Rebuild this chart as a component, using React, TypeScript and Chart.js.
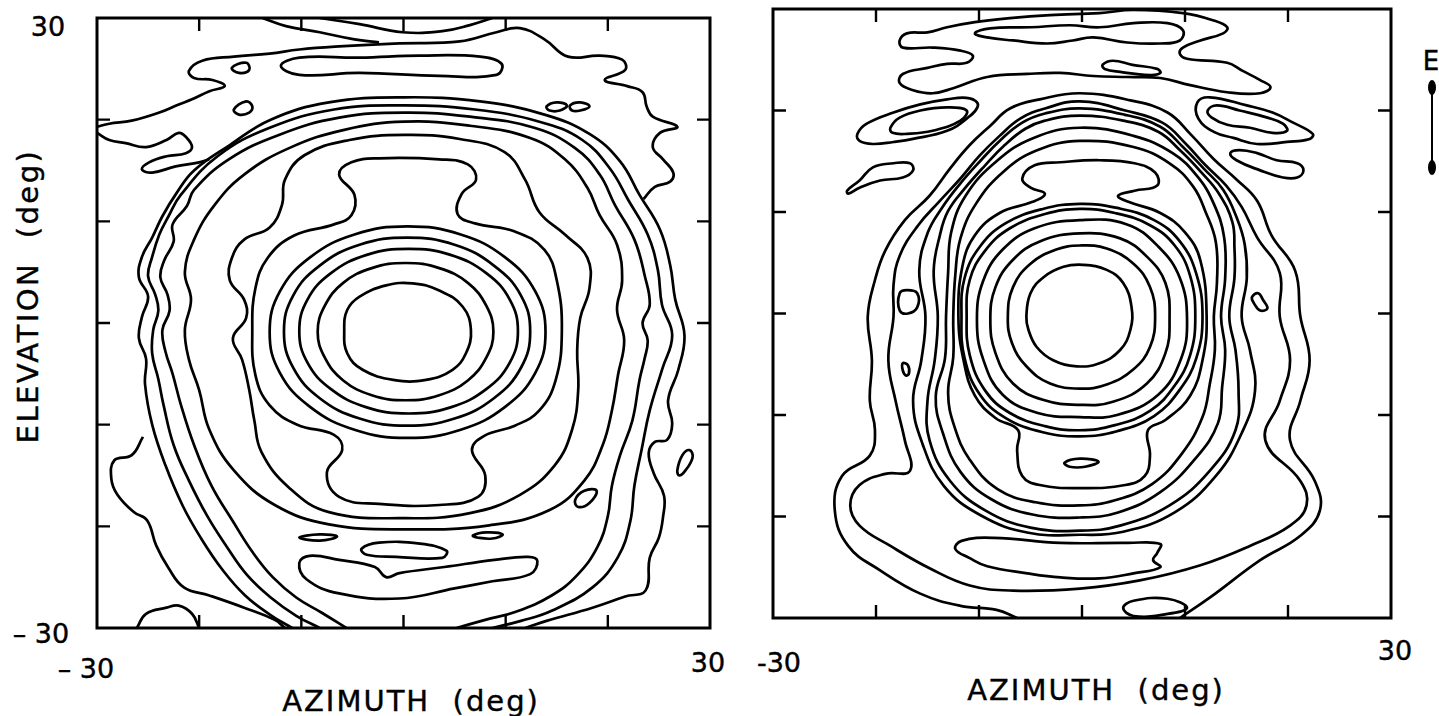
import React, { useEffect, useRef } from "react";
import { Chart, registerables } from "chart.js";
Chart.register(...registerables);

type Pt = [number, number];

const axisMin = -30;
const axisMax = 30;
const axisTicks = [-20, -10, 0, 10, 20];

// ---------------- LEFT PANEL (degrees) ----------------
const leftRing1: Pt[] = [[-5.8,-0.7],[-5.5,1.3],[-4.3,2.6],[-1.7,3.7],[0.9,3.9],[3.5,3.2],[5.8,1.6],[6.6,-0.7],[6.1,-3.0],[4.8,-4.6],[2.2,-5.6],[-1.0,-5.6],[-4.0,-4.6],[-5.5,-3.0]];
const leftRing2: Pt[] = [[8.8,-0.85],[8.1,1.7],[6.3,3.95],[3.5,5.4],[0.2,5.9],[-3.1,5.4],[-5.9,3.95],[-7.7,1.7],[-8.4,-0.85],[-7.7,-3.4],[-5.9,-5.65],[-3.1,-7.1],[0.2,-7.6],[3.5,-7.1],[6.3,-5.65],[8.1,-3.4]];
const leftRing3: Pt[] = [[11.2,-0.8],[10.4,2.3],[8.1,4.9],[4.6,6.7],[0.5,7.3],[-3.6,6.7],[-7.1,4.9],[-9.4,2.3],[-10.2,-0.8],[-9.4,-3.9],[-7.1,-6.5],[-3.6,-8.3],[0.5,-8.9],[4.6,-8.3],[8.1,-6.5],[10.4,-3.9]];
const leftRing4: Pt[] = [[12.4,-0.85],[11.5,2.7],[8.85,5.65],[5.0,7.7],[0.35,8.4],[-4.3,7.7],[-8.2,5.65],[-10.8,2.7],[-11.7,-0.85],[-10.8,-4.4],[-8.2,-7.4],[-4.3,-9.4],[0.35,-10.1],[5.0,-9.4],[8.85,-7.4],[11.5,-4.4]];
const leftRing5: Pt[] = [[13.9,-0.9],[12.9,3.1],[9.95,6.45],[5.6,8.7],[0.4,9.5],[-4.8,8.7],[-9.15,6.45],[-12.1,3.1],[-13.1,-0.9],[-12.1,-4.9],[-9.15,-8.25],[-4.8,-10.5],[0.4,-11.3],[5.6,-10.5],[9.95,-8.25],[12.9,-4.9]];
const leftDogbone: Pt[] = [[-6.3,14.6],[-5.1,15.8],[-2.4,16.2],[3.5,16.1],[6.3,15.6],[7.1,14.1],[5.7,12.7],[5.3,10.7],[7.0,9.8],[10.9,9.0],[13.8,7.2],[15.0,4.2],[15.5,-0.7],[14.9,-5.6],[13.3,-8.6],[10.9,-10.1],[7.9,-11.1],[6.7,-12.5],[8.0,-15.0],[7.3,-17.1],[3.5,-17.9],[-2.4,-17.8],[-6.3,-17.1],[-7.5,-14.7],[-6.0,-12.5],[-6.8,-11.0],[-10.4,-10.0],[-13.1,-8.1],[-14.5,-5.1],[-14.8,-0.7],[-14.5,3.4],[-13.3,6.4],[-10.7,8.6],[-6.8,9.7],[-5.1,10.6],[-4.8,12.6]];
const leftRingE: Pt[] = [[0.1,18.5],[5.5,18.1],[9.9,16.8],[11.9,14.1],[13.3,10.9],[15.8,8.7],[18.0,6.4],[18.2,3.4],[17.3,0.5],[17.0,-2.7],[17.1,-6.6],[16.5,-10.5],[14.8,-14.0],[11.4,-16.9],[6.5,-18.7],[0.1,-19.2],[-7.3,-18.6],[-11.2,-16.2],[-13.9,-12.7],[-14.6,-9.6],[-15.1,-6.6],[-15.8,-3.6],[-16.7,-1.5],[-15.4,0.5],[-15.6,2.3],[-17.0,4.2],[-16.8,6.4],[-15.6,8.2],[-13.1,9.4],[-11.9,11.6],[-11.6,14.1],[-9.7,16.5],[-5.3,18.0]];
const leftRingW1: Pt[] = [[0.1,19.8],[6.5,19.4],[12.4,18.2],[15.8,16.1],[18.0,13.3],[19.2,10.6],[20.9,7.7],[21.4,4.2],[20.9,1.3],[21.6,-1.7],[21.0,-5.1],[20.4,-8.6],[19.5,-12.0],[17.7,-15.5],[14.3,-18.4],[8.4,-19.9],[0.1,-20.3],[-7.3,-19.8],[-12.6,-17.9],[-16.6,-14.5],[-19.0,-10.5],[-20.0,-6.6],[-21.0,-3.6],[-21.4,-0.7],[-20.8,2.3],[-21.4,5.0],[-20.5,8.2],[-18.5,11.6],[-15.6,14.6],[-11.2,17.2],[-5.8,19.0]];
const leftW2: Pt[] = [[-5.6,-30.0],[-8.0,-28.5],[-10.5,-27.0],[-12.8,-25.0],[-14.8,-22.5],[-16.7,-19.5],[-18.8,-16.0],[-20.5,-12.0],[-21.8,-8.0],[-22.6,-5.0],[-23.3,-2.8],[-23.6,-0.7],[-22.9,1.2],[-23.1,2.8],[-23.8,4.5],[-23.4,6.2],[-22.5,8.0],[-22.6,9.7],[-21.2,11.5],[-20.5,13.1],[-17.1,16.1],[-12.2,18.5],[-6.3,20.2],[0.1,20.7],[6.5,20.3],[12.8,19.2],[16.8,17.2],[19.2,14.6],[20.7,11.6],[22.6,8.2],[23.6,4.7],[24.1,1.8],[23.4,0.0],[23.9,-1.7],[23.6,-3.5],[23.1,-5.6],[22.4,-9.6],[21.2,-13.0],[20.4,-16.0],[20.0,-19.0],[19.0,-22.0],[17.0,-24.8],[14.5,-26.8],[11.0,-28.4],[8.0,-29.2],[5.2,-30.0]];
const leftW3: Pt[] = [[-8.2,-30.0],[-10.5,-28.8],[-13.0,-27.0],[-15.3,-24.8],[-17.3,-22.0],[-19.2,-19.0],[-21.0,-15.5],[-22.5,-12.0],[-23.5,-8.0],[-24.0,-5.5],[-24.6,-3.0],[-24.5,-0.7],[-24.0,1.2],[-24.3,2.8],[-25.0,4.6],[-24.6,6.5],[-23.9,8.7],[-23.0,10.5],[-21.8,12.6],[-18.2,16.4],[-13.1,19.2],[-6.8,21.0],[0.1,21.4],[7.0,21.0],[13.3,19.8],[17.5,18.0],[20.2,15.2],[22.0,12.1],[23.9,8.7],[24.9,5.2],[25.3,1.8],[26.3,-1.2],[25.3,-4.6],[24.1,-8.6],[23.3,-12.5],[22.6,-16.0],[22.2,-19.5],[21.0,-23.0],[18.5,-26.0],[14.5,-28.3],[11.5,-29.3],[8.7,-30.0]];
const leftW4: Pt[] = [[-10.9,-30.0],[-12.9,-28.8],[-15.5,-26.8],[-17.7,-24.3],[-19.8,-21.2],[-21.6,-18.0],[-23.3,-14.0],[-24.6,-10.0],[-25.3,-6.0],[-25.2,-3.5],[-25.9,-1.5],[-25.6,0.6],[-25.0,2.6],[-25.9,4.5],[-25.6,6.5],[-24.6,8.4],[-23.6,10.5],[-22.2,12.8],[-20.5,15.0],[-17.0,17.5],[-13.0,20.0],[-7.3,21.7],[0.1,22.2],[7.5,21.8],[13.8,20.5],[18.2,18.6],[21.2,15.9],[23.1,12.6],[25.1,9.2],[26.1,5.7],[26.6,2.3],[27.5,-1.2],[26.9,-4.6],[25.9,-7.6],[26.3,-9.9],[25.8,-11.5],[24.6,-11.7],[24.0,-12.8],[24.5,-14.8],[25.5,-17.0],[25.4,-19.1],[25.0,-21.1],[24.1,-23.1],[23.7,-26.3],[21.7,-26.9],[18.5,-28.0],[14.0,-29.3],[11.9,-30.0]];
const leftW5: Pt[] = [[-25.5,-11.2],[-26.6,-13.0],[-28.3,-13.5],[-28.6,-15.3],[-28.0,-16.9],[-26.4,-18.6],[-25.1,-19.4],[-24.2,-21.9],[-23.0,-24.1],[-21.5,-26.0],[-19.0,-26.8],[-15.6,-28.0],[-12.6,-29.2],[-11.6,-30.0]];
const leftBump: Pt[] = [[-26.1,-30.0],[-25.2,-28.6],[-23.2,-28.0],[-22.0,-27.8],[-20.7,-28.6],[-20.0,-30.0]];
const leftTop1: Pt[] = [[-30.0,19.3],[-28.8,19.6],[-26.6,19.9],[-23.9,20.7],[-22.0,21.5],[-20.7,22.0],[-19.0,22.8],[-17.5,23.3],[-18.7,23.9],[-20.5,24.1],[-21.0,24.8],[-19.7,25.8],[-16.6,26.2],[-13.1,26.5],[-10.2,26.9],[-6.3,27.2],[-0.4,27.5],[5.5,27.7],[9.1,28.6],[11.4,29.0],[13.8,27.9],[16.1,26.2],[19.2,26.3],[21.4,25.9],[21.7,24.9],[19.7,23.9],[21.9,23.3],[23.4,22.7],[23.8,21.3],[24.4,20.3],[26.8,19.3],[25.1,18.7],[24.4,17.3],[25.4,16.1],[26.4,14.8],[26.1,13.9],[24.6,13.4],[23.5,12.2]];
const leftTop2: Pt[] = [[-30.0,18.7],[-28.8,18.0],[-27.2,17.7],[-25.2,17.3],[-23.2,18.0],[-22.0,18.7],[-21.3,18.3],[-20.7,17.3],[-21.3,16.7],[-23.2,16.4],[-24.9,15.8],[-25.6,15.1],[-24.6,14.8],[-22.3,15.4],[-20.0,15.8],[-19.0,16.1]];
const leftTopU: Pt[] = [[-8.2,30.0],[-4.3,29.4],[-0.1,28.6],[3.8,28.7],[6.5,29.3],[8.7,30.0]];
const leftTopSlant: Pt[] = [[-13.8,30.0],[-11.5,29.2],[-8.2,28.6],[-4.8,27.9],[-2.4,27.6]];
const leftTopBlob: Pt[] = [[-12.0,25.3],[-10.2,26.1],[-4.3,26.1],[1.6,26.3],[7.5,26.2],[9.6,25.5],[9.1,24.4],[3.5,24.3],[-4.3,24.6],[-10.2,24.4]];
const leftLoopA: Pt[] = [[-16.8,25.1],[-15.4,25.6],[-15.1,24.9],[-16.1,24.6]];
const leftLoopB: Pt[] = [[-16.6,21.0],[-15.4,21.8],[-14.8,21.3],[-15.1,20.7],[-16.1,20.5]];
const leftLoopC: Pt[] = [[14.0,21.3],[15.0,21.7],[16.0,21.4],[15.3,20.9],[14.3,20.9]];
const leftLoopD: Pt[] = [[16.3,21.4],[17.3,21.7],[18.2,21.3],[17.3,20.9],[16.5,20.9]];
const leftDash: Pt[] = [[-10.2,-21.1],[-8.2,-20.8],[-6.5,-21.0],[-8.2,-21.4]];
const leftBottomLoop: Pt[] = [[-4.1,-22.2],[-2.4,-21.6],[1.6,-21.7],[4.2,-22.4],[3.8,-23.1],[-0.7,-23.0],[-3.6,-22.8]];
const leftSmallLoop: Pt[] = [[6.8,-20.9],[8.1,-20.6],[9.7,-20.8],[8.7,-21.2],[7.2,-21.1]];
const leftLongBlob: Pt[] = [[-10.2,-23.6],[-9.2,-22.9],[-6.3,-23.3],[-2.8,-24.0],[-1.7,-25.0],[-0.4,-24.6],[4.0,-24.0],[8.9,-23.3],[12.2,-23.0],[13.1,-23.4],[12.4,-24.7],[8.7,-25.4],[5.0,-26.1],[-0.4,-27.1],[-6.3,-26.6],[-9.5,-25.2]];
const leftOval: Pt[] = [[26.8,-14.5],[27.3,-13.0],[28.0,-12.5],[28.3,-13.2],[27.6,-14.5],[27.0,-15.0]];
const leftLowLoop: Pt[] = [[16.8,-17.4],[17.7,-16.5],[18.9,-16.5],[18.2,-17.7],[17.1,-18.1]];

// ---------------- RIGHT PANEL (degrees) ----------------
const rightRing1: Pt[] = [[-5.4,-0.3],[-5.0,2.0],[-3.7,3.6],[-1.8,4.6],[0.1,4.8],[2.4,4.3],[4.0,3.0],[4.8,0.7],[4.7,-1.6],[3.7,-3.6],[1.7,-4.9],[-0.5,-5.2],[-2.8,-4.6],[-4.4,-3.3],[-5.2,-1.6]];
const rightRing2: Pt[] = [[-7.2,-0.3],[-6.7,2.6],[-5.0,4.9],[-2.5,6.3],[-0.2,6.7],[2.4,6.4],[5.0,4.9],[6.6,2.6],[7.1,-0.3],[6.6,-3.3],[5.0,-5.5],[2.4,-7.0],[-0.2,-7.4],[-3.1,-6.9],[-5.4,-5.2],[-6.8,-2.9]];
const rightRing3: Pt[] = [[-8.9,-0.6],[-8.4,2.6],[-6.7,5.3],[-4.1,7.1],[-0.2,7.9],[3.7,7.4],[6.3,5.6],[8.1,3.0],[8.5,-0.6],[8.1,-3.9],[6.3,-6.9],[3.0,-8.7],[-0.2,-9.0],[-3.8,-8.5],[-6.7,-6.9],[-8.4,-3.9]];
const rightRing4: Pt[] = [[-10.2,-0.6],[-9.6,3.2],[-7.7,6.3],[-4.6,8.4],[-0.2,9.2],[4.3,8.8],[7.4,6.6],[9.5,3.5],[10.2,-0.6],[9.6,-4.5],[7.4,-8.0],[3.4,-10.0],[-0.2,-10.2],[-4.3,-9.8],[-7.7,-8.0],[-9.6,-4.5]];
const rightRing5: Pt[] = [[-11.2,-0.3],[-10.9,3.3],[-9.4,6.2],[-7.0,8.4],[-3.6,9.8],[-0.2,10.3],[3.2,9.9],[6.6,8.7],[9.0,6.7],[10.5,3.7],[11.0,-0.3],[10.5,-4.1],[9.0,-7.1],[6.6,-9.6],[3.2,-11.0],[-0.2,-11.5],[-3.6,-11.1],[-7.0,-9.8],[-9.4,-7.6],[-10.9,-4.1]];
const rightRing6: Pt[] = [[-11.7,-0.3],[-11.4,3.5],[-9.9,6.6],[-7.4,8.9],[-3.8,10.3],[-0.2,10.8],[3.4,10.4],[7.0,9.2],[9.5,7.1],[11.1,3.9],[11.7,-0.3],[11.1,-4.4],[9.5,-7.5],[7.0,-10.1],[3.4,-11.6],[-0.2,-12.1],[-3.8,-11.7],[-7.4,-10.3],[-9.9,-8.0],[-11.4,-4.4]];
const rightDogbone: Pt[] = [[-5.8,13.3],[-4.6,14.6],[-2.1,14.9],[1.7,15.1],[5.1,14.8],[7.1,13.9],[7.3,12.6],[5.1,12.1],[3.5,11.6],[4.5,11.0],[7.6,9.9],[10.0,8.0],[11.5,5.2],[12.1,-0.3],[11.7,-4.6],[10.5,-8.1],[8.1,-10.5],[6.4,-11.5],[6.6,-14.0],[6.1,-16.0],[4.2,-16.9],[-0.2,-17.2],[-4.1,-16.9],[-5.8,-16.0],[-6.3,-13.5],[-6.2,-11.5],[-8.4,-10.3],[-10.4,-8.1],[-11.5,-4.6],[-12.0,-0.3],[-11.6,4.7],[-10.4,7.7],[-8.0,9.9],[-4.8,11.0],[-3.6,11.8],[-5.0,12.4]];
const rightInnerDash: Pt[] = [[-1.7,-14.7],[-0.2,-14.3],[1.6,-14.6],[0.3,-15.1],[-1.2,-15.1]];
const rightRing7: Pt[] = [[-0.2,17.0],[5.0,16.4],[8.5,14.8],[10.8,12.5],[12.0,10.0],[13.0,7.0],[13.1,3.0],[12.8,-0.3],[12.9,-3.6],[12.4,-7.0],[11.7,-10.2],[9.7,-13.8],[6.8,-16.8],[3.2,-18.4],[-0.2,-18.9],[-4.5,-18.6],[-8.2,-17.3],[-10.9,-14.4],[-12.4,-11.1],[-13.0,-7.8],[-12.5,-4.3],[-12.5,-0.3],[-12.3,3.8],[-11.8,7.4],[-10.3,10.8],[-7.6,14.0],[-4.3,16.1]];
const rightRing8: Pt[] = [[-0.2,18.3],[5.0,17.5],[8.8,15.8],[11.2,13.5],[12.8,10.8],[13.8,7.5],[13.9,3.5],[13.5,-0.3],[13.9,-3.6],[13.6,-7.3],[13.2,-10.8],[11.0,-14.3],[7.6,-17.6],[3.5,-19.6],[-0.2,-20.1],[-4.8,-19.8],[-8.8,-18.3],[-11.8,-15.6],[-13.5,-11.8],[-14.2,-8.2],[-13.3,-4.4],[-13.2,-0.3],[-13.0,4.0],[-12.7,8.0],[-11.3,11.6],[-8.3,15.0],[-4.7,17.3]];
const rightRing9: Pt[] = [[-0.2,19.5],[4.0,19.0],[7.4,17.9],[9.6,16.0],[11.5,14.0],[13.3,11.8],[14.6,9.0],[14.8,6.5],[14.8,3.5],[14.3,-0.3],[14.9,-3.6],[15.2,-7.6],[14.9,-11.5],[12.4,-15.5],[8.5,-18.9],[3.7,-20.9],[-0.2,-21.4],[-5.0,-21.1],[-9.4,-19.4],[-12.8,-16.5],[-14.8,-12.5],[-15.0,-8.6],[-14.3,-4.6],[-14.0,-0.3],[-14.4,4.2],[-13.8,7.7],[-13.0,10.1],[-11.4,12.3],[-9.4,14.6],[-7.5,16.6],[-5.5,18.2],[-3.6,19.0]];
const rightRing9b: Pt[] = [[-0.2,20.2],[4.1,19.6],[7.6,18.4],[9.8,16.4],[11.8,14.3],[13.7,12.2],[15.0,9.5],[15.8,6.8],[16.0,3.5],[15.5,-0.3],[16.3,-3.6],[16.8,-7.6],[15.5,-11.8],[13.0,-16.0],[9.0,-19.6],[4.0,-21.5],[-0.2,-21.8],[-5.2,-21.6],[-9.8,-19.9],[-13.4,-17.0],[-15.5,-12.8],[-16.4,-8.6],[-15.6,-4.6],[-15.2,-0.3],[-15.8,4.2],[-15.0,7.9],[-13.6,10.4],[-11.9,12.7],[-9.9,15.0],[-7.9,17.1],[-5.8,18.8],[-3.6,19.7]];
const rightRing10: Pt[] = [[-0.2,20.9],[4.2,20.0],[7.8,18.8],[10.0,16.8],[12.0,14.6],[14.0,12.6],[15.5,10.5],[17.0,7.5],[19.2,4.0],[19.2,-0.3],[20.2,-4.6],[19.2,-8.6],[17.8,-12.5],[21.2,-16.5],[21.8,-18.9],[20.2,-20.9],[16.3,-22.9],[11.5,-24.8],[5.6,-26.3],[-0.2,-27.1],[-6.7,-27.3],[-10.9,-26.8],[-14.8,-25.1],[-18.6,-22.9],[-21.6,-20.9],[-22.5,-18.9],[-21.6,-16.9],[-19.1,-15.8],[-16.7,-15.5],[-17.2,-12.5],[-18.1,-8.6],[-18.8,-4.6],[-18.3,-0.3],[-18.3,2.8],[-17.7,5.7],[-15.9,8.7],[-13.8,11.1],[-11.8,13.3],[-9.9,15.6],[-8.0,17.5],[-6.0,19.2],[-3.6,20.2]];
const rightOuter: Pt[] = [[-6.3,-30.0],[-8.3,-29.2],[-11.8,-28.8],[-15.7,-27.6],[-19.6,-25.3],[-22.7,-22.9],[-24.0,-19.4],[-23.3,-16.0],[-20.6,-14.0],[-20.1,-11.5],[-20.6,-8.6],[-20.4,-4.6],[-20.8,-0.3],[-20.1,3.3],[-19.1,6.2],[-17.2,9.2],[-14.8,11.6],[-12.8,14.3],[-10.9,16.6],[-8.9,18.5],[-7.0,20.2],[-4.1,21.1],[-0.2,21.7],[4.7,21.0],[8.3,19.8],[10.6,17.6],[12.8,15.2],[15.0,13.2],[17.0,11.1],[18.4,7.7],[20.7,4.2],[21.2,-0.3],[22.1,-4.6],[21.2,-8.6],[20.2,-12.5],[22.6,-16.5],[23.1,-19.4],[21.2,-21.9],[17.3,-24.3],[12.4,-28.0],[9.5,-30.0]];
const rightBottomBlob: Pt[] = [[-12.3,-23.2],[-11.7,-22.4],[-8.6,-22.1],[-2.1,-22.6],[4.4,-22.6],[7.6,-22.7],[7.3,-23.6],[6.9,-24.3],[7.6,-25.0],[5.0,-25.6],[1.7,-26.1],[-2.1,-26.0],[-5.3,-25.6],[-9.2,-24.9],[-10.9,-24.1]];
const rightBottomSmall: Pt[] = [[4.0,-29.0],[5.0,-28.3],[8.3,-28.1],[10.2,-29.0],[8.3,-29.6],[5.0,-29.8]];
const rightOvalLeft: Pt[] = [[-17.7,2.0],[-17.0,2.3],[-16.0,2.0],[-16.0,0.6],[-16.9,0.0],[-17.7,0.3]];
const rightOvalLeftLow: Pt[] = [[-17.4,-4.9],[-16.9,-5.1],[-16.8,-5.9],[-17.1,-6.1],[-17.4,-5.6]];
const rightOvalRight: Pt[] = [[16.5,1.6],[17.1,2.0],[17.6,1.3],[18.0,0.5],[17.3,0.3],[16.7,1.0]];
const rightTopBand: Pt[] = [[-17.4,26.2],[-17.7,26.9],[-17.0,27.6],[-15.0,27.7],[-13.1,28.2],[-10.4,28.7],[-7.0,29.1],[-3.1,29.4],[1.7,29.6],[5.0,29.9],[9.8,29.6],[12.7,28.9],[14.1,28.2],[13.7,27.6],[11.5,26.9],[9.8,26.2],[9.5,25.6],[10.2,25.1],[14.1,24.7],[15.6,23.9],[17.3,23.0],[18.3,22.3],[17.3,21.7],[14.1,21.8],[10.5,22.5],[7.6,23.2],[4.4,23.3],[1.1,23.4],[-2.1,23.7],[-5.3,23.6],[-9.2,23.3],[-12.5,22.2],[-14.5,21.7],[-16.4,22.0],[-17.7,22.7],[-17.4,23.6],[-15.0,24.2],[-13.1,24.6],[-11.2,24.7],[-10.6,25.4],[-11.8,25.9],[-14.5,26.2]];
const rightTopLoop: Pt[] = [[-10.4,27.6],[-8.9,28.1],[-5.0,28.2],[-1.2,28.4],[1.7,28.2],[5.0,28.6],[8.3,28.6],[9.8,27.9],[9.5,26.9],[7.6,26.6],[4.4,26.7],[1.1,27.2],[-0.9,26.9],[-3.4,26.6],[-6.7,26.9],[-9.2,27.2]];
const rightTopSmall: Pt[] = [[2.0,24.5],[3.0,24.9],[4.9,24.5],[7.3,24.1],[7.6,23.7],[6.6,23.5],[3.7,23.8],[2.2,24.1]];
const rightLeftLoopIn: Pt[] = [[-18.6,18.3],[-17.7,19.3],[-15.7,20.0],[-13.1,20.3],[-11.2,20.0],[-11.8,19.0],[-14.5,18.0],[-17.0,17.7],[-18.4,17.8]];
const rightLeftLoopOut: Pt[] = [[-21.8,17.7],[-20.9,18.7],[-18.3,19.8],[-15.7,20.6],[-13.1,21.1],[-10.9,21.2],[-10.1,20.5],[-11.2,19.2],[-13.1,18.0],[-16.4,17.2],[-18.3,16.9],[-20.3,16.7],[-21.6,17.0]];
const rightLeftBlob: Pt[] = [[-22.8,12.1],[-21.6,13.1],[-20.3,14.4],[-18.3,14.8],[-16.7,14.8],[-16.4,14.1],[-17.4,13.4],[-19.6,13.1],[-21.6,12.4],[-22.7,11.8]];
const rightRightLoopIn: Pt[] = [[12.2,20.0],[13.1,20.5],[15.3,20.0],[18.0,19.3],[19.5,18.7],[19.9,18.0],[18.5,17.8],[16.3,18.3],[14.1,18.6],[12.6,19.3]];
const rightRightLoopOut: Pt[] = [[11.2,20.8],[12.4,21.3],[16.0,20.5],[18.5,19.8],[20.5,18.8],[22.4,17.7],[22.1,17.2],[19.9,16.9],[17.0,16.7],[14.7,17.3],[12.8,17.9],[11.3,19.2]];
const rightRightBlob: Pt[] = [[14.4,15.8],[15.3,16.1],[17.0,15.8],[18.9,15.1],[20.9,14.8],[21.5,14.1],[20.9,13.4],[19.5,13.4],[17.3,14.1],[15.0,15.1]];

const leftClosed: Pt[][] = [leftRing1, leftRing2, leftRing3, leftRing4, leftRing5, leftDogbone, leftRingE, leftRingW1, leftTopBlob, leftLoopA, leftLoopB, leftLoopC, leftLoopD, leftDash, leftBottomLoop, leftSmallLoop, leftLongBlob, leftOval, leftLowLoop];
const leftOpen: Pt[][] = [leftW2, leftW3, leftW4, leftW5, leftBump, leftTop1, leftTop2, leftTopU, leftTopSlant];
const rightClosed: Pt[][] = [rightRing1, rightRing2, rightRing3, rightRing4, rightRing5, rightRing6, rightDogbone, rightInnerDash, rightRing7, rightRing8, rightRing9, rightRing9b, rightRing10, rightBottomBlob, rightBottomSmall, rightOvalLeft, rightOvalLeftLow, rightOvalRight, rightTopBand, rightTopLoop, rightTopSmall, rightLeftLoopIn, rightLeftLoopOut, rightLeftBlob, rightRightLoopIn, rightRightLoopOut, rightRightBlob];
const rightOpen: Pt[][] = [rightOuter];

const HIDDEN = "rgba(0,0,0,0)";

function lineDataset(pts: Pt[], hideFirstLast: boolean) {
  const last = pts.length - 2;
  return {
    data: pts.map(([x, y]) => ({ x, y })),
    showLine: true,
    borderColor: "#000",
    borderWidth: 2.7,
    pointRadius: 0,
    pointHoverRadius: 0,
    tension: 0.42,
    fill: false,
    segment: hideFirstLast
      ? {
          borderColor: (ctx: any) =>
            ctx.p0DataIndex === 0 || ctx.p0DataIndex === last ? HIDDEN : undefined,
        }
      : undefined,
  };
}

function buildDatasets(closed: Pt[][], open: Pt[][]) {
  // closed curves: wrap one point on each side so the spline is smooth across the seam,
  // then hide the two wrap segments
  return [
    ...closed.map((c) => lineDataset([c[c.length - 1], ...c, c[0], c[1]], true)),
    ...open.map((o) => lineDataset(o, false)),
  ];
}

const framePlugin = {
  id: "frameTicks",
  afterDatasetsDraw(chart: any) {
    const { ctx, chartArea: a, scales } = chart;
    ctx.save();
    ctx.strokeStyle = "#000";
    ctx.lineWidth = 3;
    ctx.strokeRect(a.left, a.top, a.right - a.left, a.bottom - a.top);
    ctx.lineWidth = 2.4;
    const L = 13;
    for (const v of axisTicks) {
      const x = scales.x.getPixelForValue(v);
      const y = scales.y.getPixelForValue(v);
      ctx.beginPath();
      ctx.moveTo(x, a.bottom);
      ctx.lineTo(x, a.bottom - L);
      ctx.moveTo(x, a.top);
      ctx.lineTo(x, a.top + L);
      ctx.moveTo(a.left, y);
      ctx.lineTo(a.left + L, y);
      ctx.moveTo(a.right, y);
      ctx.lineTo(a.right - L, y);
      ctx.stroke();
    }
    ctx.restore();
  },
};

type PanelProps = {
  left: number;
  top: number;
  width: number;
  height: number;
  pad: { left: number; right: number; top: number; bottom: number };
  closed: Pt[][];
  open: Pt[][];
};

function Panel({ left, top, width, height, pad, closed, open }: PanelProps) {
  const ref = useRef<HTMLCanvasElement>(null);
  useEffect(() => {
    const chart = new Chart(ref.current as HTMLCanvasElement, {
      type: "scatter",
      data: { datasets: buildDatasets(closed, open) as any },
      options: {
        animation: false,
        responsive: false,
        devicePixelRatio: 1,
        events: [],
        layout: { padding: pad },
        plugins: { legend: { display: false }, tooltip: { enabled: false } },
        scales: {
          x: { type: "linear", min: axisMin, max: axisMax, display: false },
          y: { type: "linear", min: axisMin, max: axisMax, display: false },
        },
      },
      plugins: [framePlugin],
    });
    return () => chart.destroy();
  }, []);
  return (
    <canvas
      ref={ref}
      width={width}
      height={height}
      style={{ position: "absolute", left, top, width, height }}
    />
  );
}

const font = "'DejaVu Sans', sans-serif";

function Label({ x, y, text, size = 27, spacing = 0, rotate = 0 }: { x: number; y: number; text: string; size?: number; spacing?: number; rotate?: number }) {
  return (
    <div
      style={{
        position: "absolute",
        left: x,
        top: y,
        transform: `translate(-50%, -50%) rotate(${rotate}deg)`,
        fontFamily: font,
        fontSize: size,
        letterSpacing: spacing,
        whiteSpace: "pre",
        color: "#000",
        lineHeight: 1,
        WebkitTextStroke: "0.4px #000",
      }}
    >
      {text}
    </div>
  );
}

export default function App() {
  return (
    <div style={{ position: "fixed", left: 0, top: 0, width: 1439, height: 716, background: "#fff", overflow: "hidden" }}>
      <Panel left={90} top={10} width={630} height={630} pad={{ left: 7, right: 10, top: 8, bottom: 12 }} closed={leftClosed} open={leftOpen} />
      <Panel left={765} top={2} width={640} height={630} pad={{ left: 8, right: 14, top: 7, bottom: 14 }} closed={rightClosed} open={rightOpen} />

      <Label x={48} y={26} text="30" />
      <Label x={41} y={633} text="– 30" />
      <Label x={86} y={668} text="– 30" />
      <Label x={708} y={662} text="30" />
      <Label x={779} y={662} text="-30" />
      <Label x={1395} y={650} text="30" />
      <Label x={411} y={701} text="AZIMUTH  (deg)" size={29} spacing={2} />
      <Label x={1096} y={690} text="AZIMUTH  (deg)" size={29} spacing={2} />
      <Label x={28} y={296} text="ELEVATION  (deg)" size={29} spacing={2.5} rotate={-90} />
      <Label x={1431} y={61} text="E" size={26} />
      <div style={{ position: "absolute", left: 1431, top: 84, width: 2, height: 88, background: "#000" }} />
      <div style={{ position: "absolute", left: 1428, top: 80, width: 8, height: 15, borderRadius: "50%", background: "#000" }} />
      <div style={{ position: "absolute", left: 1428, top: 160, width: 8, height: 15, borderRadius: "50%", background: "#000" }} />
    </div>
  );
}
